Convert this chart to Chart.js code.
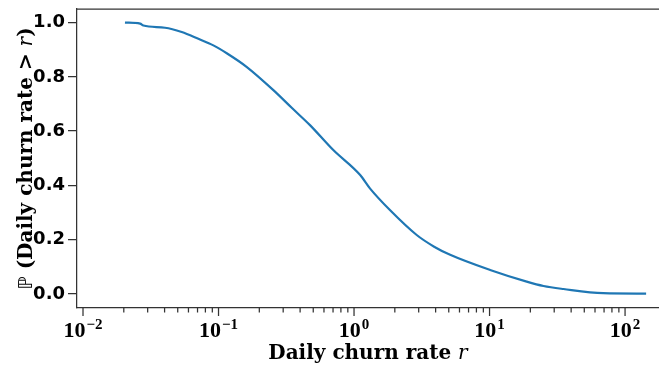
<!DOCTYPE html>
<html>
<head>
<meta charset="utf-8">
<script src="https://cdn.jsdelivr.net/npm/chart.js@4.4.1/dist/chart.umd.min.js"></script>
<style>
  html, body { margin: 0; padding: 0; background: #fff; }
</style>
</head>
<body>
<canvas id="churn" width="659" height="365"></canvas>
<script>
// churn rate r (log x) and P(churn > r)
const rValues = [0.0204, 0.0264, 0.0279, 0.0403, 0.0535, 0.071, 0.0916, 0.115, 0.161, 0.254, 0.35, 0.473, 0.703, 1.11, 1.31, 1.84, 2.9, 3.9, 5.12, 10.1, 18.8, 25, 35.1, 69, 143];
const pValues = [1.0, 0.996, 0.989, 0.981, 0.965, 0.94, 0.916, 0.887, 0.837, 0.751, 0.684, 0.622, 0.53, 0.438, 0.389, 0.309, 0.217, 0.174, 0.144, 0.088, 0.045, 0.029, 0.018, 0.0025, 0.001];

const yTicks = [0, 0.2, 0.4, 0.6, 0.8, 1.0];
const xMajorTicks = [0.01, 0.1, 1, 10, 100];
const xExponents = ['−2', '−1', '0', '1', '2'];

const xTitle = 'Daily churn rate ';
const yTitle = ' (Daily churn rate > ';

const spineColor = '#333';
const serif = '"Liberation Serif", "DejaVu Serif", serif';
const titleSerif = '"DejaVu Serif", serif';

// minor ticks 2..9 per decade
let xMinorTicks = [];
for (let i = 0; i < xMajorTicks.length; i++) {
    for (let k = 2; k <= 9; k++) xMinorTicks.push(xMajorTicks[i] * k);
}

function drawParts(ctx, parts, x, y) {
    // parts drawn left to right, centered on x
    let total = 0;
    parts.forEach(p => { ctx.font = p[1]; total += ctx.measureText(p[0]).width; });
    let cx = x - total / 2;
    parts.forEach(p => {
        ctx.font = p[1];
        ctx.fillText(p[0], cx, y);
        cx += ctx.measureText(p[0]).width;
    });
}

const extras = {
    id: 'extras',
    afterDraw(chart) {
        const ctx = chart.ctx;
        const area = chart.chartArea;
        const xs = chart.scales.x;
        ctx.save();

        // top spine
        ctx.strokeStyle = spineColor;
        ctx.lineWidth = 1.25;
        ctx.beginPath();
        ctx.moveTo(area.left, area.top);
        ctx.lineTo(area.right, area.top);
        ctx.stroke();

        // x tick marks
        ctx.beginPath();
        xMajorTicks.forEach(v => {
            const px = xs.getPixelForValue(v);
            ctx.moveTo(px, area.bottom);
            ctx.lineTo(px, area.bottom + 8);
        });
        xMinorTicks.forEach(v => {
            if (v < xs.min || v > xs.max) return;
            const px = xs.getPixelForValue(v);
            ctx.moveTo(px, area.bottom);
            ctx.lineTo(px, area.bottom + 4.5);
        });
        ctx.stroke();

        // x tick labels 10^n
        ctx.fillStyle = '#000';
        ctx.textBaseline = 'alphabetic';
        ctx.textAlign = 'left';
        xMajorTicks.forEach((v, i) => {
            const px = xs.getPixelForValue(v);
            const baseFont = 'bold 22px ' + serif;
            const expFont = 'bold 15px ' + serif;
            ctx.font = baseFont;
            const wb = ctx.measureText('10').width;
            ctx.font = expFont;
            const we = ctx.measureText(xExponents[i]).width;
            const x0 = px - (wb + we + 1) / 2;
            ctx.font = baseFont;
            ctx.fillText('10', x0, 337);
            ctx.font = expFont;
            ctx.fillText(xExponents[i], x0 + wb + 1, 329);
        });

        // x title
        const midX = (area.left + area.right) / 2;
        drawParts(ctx, [[xTitle, 'bold 20px ' + titleSerif], ['r', 'italic 20px ' + titleSerif]], midX, 359);

        // y title, rotated
        ctx.translate(32, (area.top + area.bottom) / 2);
        ctx.rotate(-Math.PI / 2);
        drawParts(ctx, [
            ['\u2119', '19px "DejaVu Sans", ' + titleSerif],
            [yTitle, 'bold 20px ' + titleSerif],
            ['r', 'italic 20px ' + titleSerif],
            [')', 'bold 20px ' + titleSerif]
        ], 0, 0);

        ctx.restore();
    }
};

const points = rValues.map((r, i) => ({ x: r, y: pValues[i] }));

new Chart(document.getElementById('churn'), {
    type: 'line',
    data: {
        datasets: [{
            data: points,
            borderColor: '#1f77b4',
            borderWidth: 2.2,
            pointRadius: 0,
            fill: false,
            cubicInterpolationMode: 'monotone'
        }]
    },
    options: {
        responsive: false,
        animation: false,
        devicePixelRatio: 1,
        layout: { padding: { top: 9, right: 0, left: 0, bottom: 0 } },
        plugins: {
            legend: { display: false },
            tooltip: { enabled: false }
        },
        scales: {
            x: {
                type: 'logarithmic',
                bounds: 'data',
                min: 0.00903,
                max: 178,
                afterFit(scale) {
                    scale.height = 57;
                    scale.paddingLeft = 0;
                    scale.paddingRight = 0;
                },
                ticks: { display: false },
                grid: { display: true, drawOnChartArea: false, drawTicks: false },
                border: { display: true, color: spineColor, width: 1.25 }
            },
            y: {
                min: -0.052,
                max: 1.05,
                afterFit(scale) {
                    scale.width = 77;
                    scale.paddingTop = 0;
                    scale.paddingBottom = 0;
                },
                afterBuildTicks(scale) { scale.ticks = yTicks.map(v => ({ value: v })); },
                ticks: {
                    color: '#000',
                    padding: 3,
                    font: { family: 'DejaVu Sans', weight: 'bold', size: 18 },
                    callback: v => v.toFixed(1)
                },
                grid: { drawOnChartArea: false, tickLength: 9, tickColor: spineColor, lineWidth: 1.25 },
                border: { display: true, color: spineColor, width: 1.25 }
            }
        }
    },
    plugins: [extras]
});
</script>
</body>
</html>
